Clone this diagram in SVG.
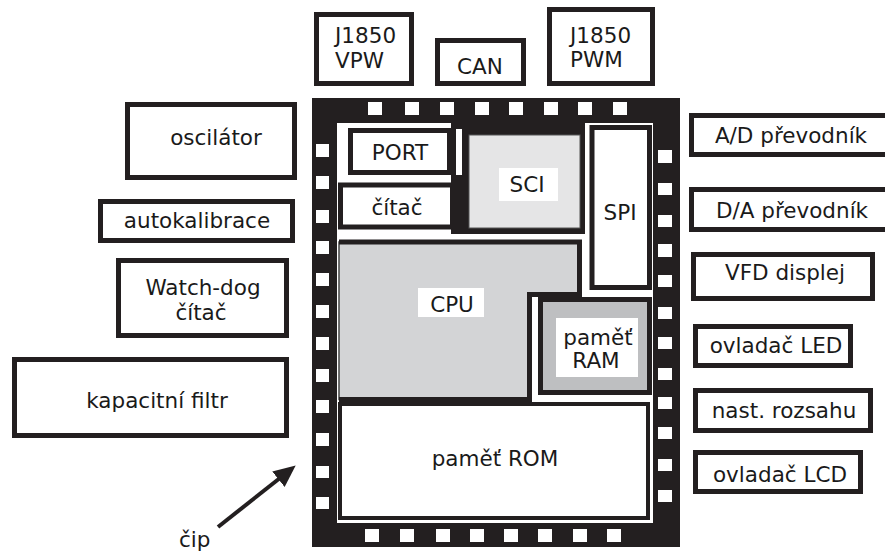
<svg xmlns="http://www.w3.org/2000/svg" width="885" height="551" viewBox="0 0 885 551">
<defs>
<style>
.box{fill:#fff;stroke:#231f20;stroke-width:5}
.t{font-family:"DejaVu Sans","Verdana",sans-serif;font-size:21.5px;fill:#1a1a1a}
.m{text-anchor:middle}
.pin{fill:#fff}
.blk{fill:#231f20}
</style>
<marker id="ah" markerUnits="userSpaceOnUse" markerWidth="24" markerHeight="22" viewBox="0 -11 24 22" refX="2" refY="0" orient="auto">
<path d="M0,-10 L22,0 L0,10 z" fill="#231f20"/>
</marker>
</defs>
<rect width="885" height="551" fill="#fff"/>

<g id="vpw"><rect class="box" x="316.5" y="14.5" width="95" height="69"/><text class="t" x="335" y="43">J1850</text><text class="t" x="335" y="68">VPW</text></g>
<g id="can"><rect class="box" x="437.5" y="40.5" width="86" height="43"/><text class="t m" x="480" y="74">CAN</text></g>
<g id="pwm"><rect class="box" x="549.5" y="9.5" width="103" height="74"/><text class="t" x="570" y="43">J1850</text><text class="t" x="570" y="67">PWM</text></g>

<g id="oscilator"><rect class="box" x="127.5" y="104.5" width="167" height="73"/><text class="t m" x="216" y="145">oscilátor</text></g>
<g id="autokalibrace"><rect class="box" x="100.5" y="201.5" width="192" height="39"/><text class="t m" x="197" y="228">autokalibrace</text></g>
<g id="watchdog"><rect class="box" x="118.5" y="260.5" width="168" height="75"/><text class="t m" x="203" y="295">Watch-dog</text><text class="t m" x="201" y="320">čítač</text></g>
<g id="filtr"><rect class="box" x="14.5" y="359.5" width="272" height="76"/><text class="t m" x="157" y="408">kapacitní filtr</text></g>

<g id="ad"><rect class="box" x="691.5" y="115.5" width="200" height="39"/><text class="t m" x="791" y="143">A/D převodník</text></g>
<g id="da"><rect class="box" x="691.5" y="189.5" width="200" height="40"/><text class="t m" x="792" y="218">D/A převodník</text></g>
<g id="vfd"><rect class="box" x="693.5" y="254.5" width="179" height="44"/><text class="t m" x="785" y="280">VFD displej</text></g>
<g id="led"><rect class="box" x="695.5" y="326.5" width="155" height="39"/><text class="t m" x="776" y="353">ovladač LED</text></g>
<g id="rozsah"><rect class="box" x="695.5" y="390.5" width="175" height="40"/><text class="t m" x="784" y="418">nast. rozsahu</text></g>
<g id="lcd"><rect class="box" x="695.5" y="452.5" width="165" height="39"/><text class="t m" x="780" y="482">ovladač LCD</text></g>

<g id="chip">
<rect class="blk" x="312" y="98" width="368" height="449"/>
<rect fill="#fff" x="337" y="123" width="316" height="400"/>
<g class="pin">
<rect x="368" y="102" width="14" height="13"/><rect x="405" y="102" width="14" height="13"/><rect x="440" y="102" width="14" height="13"/><rect x="475" y="102" width="14" height="13"/><rect x="509" y="102" width="14" height="13"/><rect x="544" y="102" width="14" height="13"/><rect x="578" y="102" width="14" height="13"/><rect x="613" y="102" width="14" height="13"/>
<rect x="365" y="529" width="14" height="13"/><rect x="400" y="529" width="14" height="13"/><rect x="436" y="529" width="14" height="13"/><rect x="470" y="529" width="14" height="13"/><rect x="504" y="529" width="14" height="13"/><rect x="538" y="529" width="14" height="13"/><rect x="573" y="529" width="14" height="13"/><rect x="607" y="529" width="14" height="13"/>
<rect x="316" y="144" width="13" height="13"/><rect x="316" y="176" width="13" height="13"/><rect x="316" y="210" width="13" height="13"/><rect x="316" y="241" width="13" height="13"/><rect x="316" y="273" width="13" height="13"/><rect x="316" y="305" width="13" height="13"/><rect x="316" y="337" width="13" height="13"/><rect x="316" y="369" width="13" height="13"/><rect x="316" y="400" width="13" height="13"/><rect x="316" y="433" width="13" height="13"/><rect x="316" y="466" width="13" height="12"/><rect x="316" y="497" width="13" height="12"/>
<rect x="658" y="150" width="14" height="13"/><rect x="658" y="183" width="14" height="12"/><rect x="658" y="215" width="14" height="12"/><rect x="658" y="244" width="14" height="13"/><rect x="658" y="275" width="14" height="12"/><rect x="658" y="307" width="14" height="12"/><rect x="658" y="337" width="14" height="12"/><rect x="658" y="368" width="14" height="12"/><rect x="658" y="397" width="14" height="12"/><rect x="658" y="427" width="14" height="12"/><rect x="658" y="459" width="14" height="12"/><rect x="658" y="490" width="14" height="12"/>
</g>
</g>

<g id="port"><rect class="box" x="350.5" y="130.5" width="99" height="42" stroke-width="4.5"/><text class="t m" x="400" y="160">PORT</text></g>
<g id="citac"><rect class="box" x="340.5" y="185" width="112" height="42" stroke-width="4.5"/><text class="t m" x="397" y="215">čítač</text></g>
<g id="sci">
<rect class="blk" x="451" y="123" width="134" height="111"/>
<rect fill="#fff" x="456" y="129" width="6" height="46"/>
<rect fill="#e5e5e6" stroke="#555" stroke-width="1" x="469" y="135" width="111" height="93"/>
<rect fill="#fff" x="499" y="168" width="59" height="33"/>
<text class="t m" x="527" y="192">SCI</text>
</g>
<g id="spi"><rect class="box" x="592" y="127.5" width="57.5" height="160"/><text class="t m" x="620" y="220">SPI</text></g>
<g id="cpu">
<path d="M339,242 H579.5 V294.5 H529.5 V399.5 H339 Z" fill="#d3d4d6" stroke="#444" stroke-width="1.5"/>
<path d="M339,242 H579.5 V294.5 H529.5 V399.5 H339" fill="none" stroke="#231f20" stroke-width="5"/>
<rect fill="#fff" x="418" y="288" width="66" height="29"/>
<text class="t m" x="452" y="312">CPU</text>
</g>
<g id="ram">
<rect fill="#bebfc1" stroke="#231f20" stroke-width="5" x="540.5" y="299.5" width="109" height="93"/>
<rect fill="#fff" x="556" y="318" width="82" height="59"/>
<text class="t m" x="598" y="345">paměť</text><text class="t m" x="596" y="368">RAM</text>
</g>
<g id="rom"><rect fill="#fff" stroke="#231f20" stroke-width="4" x="340" y="404" width="308" height="114"/><text class="t m" x="495" y="466">paměť ROM</text></g>

<g id="connectors">
<path d="M218,527 L280,478" stroke="#231f20" stroke-width="4" fill="none" marker-end="url(#ah)"/>
</g>
<g id="cip-label"><text class="t" x="179" y="547">čip</text></g>
</svg>
